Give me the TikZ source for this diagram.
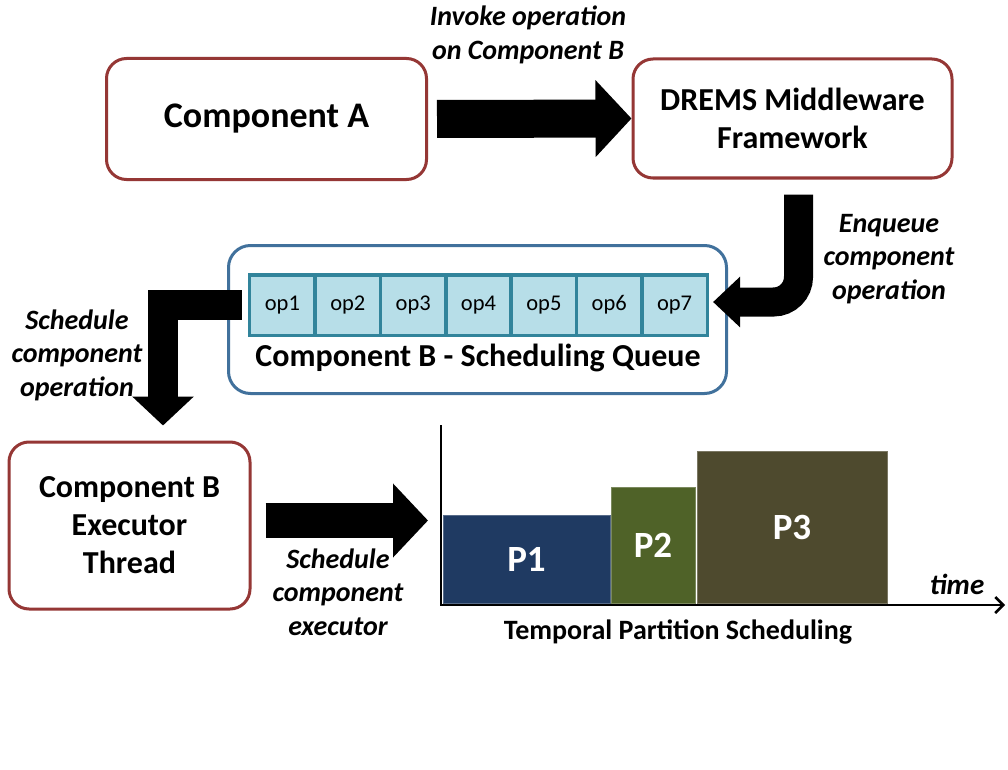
\documentclass[tikz,border=0pt]{standalone}
\usepackage{fontspec}
\setmainfont{Carlito}
\usetikzlibrary{arrows.meta,calc}
\definecolor{boxred}{RGB}{149,55,53}
\definecolor{qblue}{RGB}{65,113,156}
\definecolor{opfill}{RGB}{183,222,232}
\definecolor{opline}{RGB}{49,132,155}
\definecolor{pone}{RGB}{31,58,98}
\definecolor{ptwo}{RGB}{79,98,40}
\definecolor{pthree}{RGB}{78,74,46}
\tikzset{
  compbox/.style={draw=boxred,line width=3pt,rounded corners=20pt,fill=white,align=center,inner sep=0pt,font=\bfseries\fontsize{32}{38}\selectfont},
  qbox/.style={draw=qblue,line width=3pt,rounded corners=22pt,fill=white,inner sep=0pt},
  opcell/.style={draw=opline,line width=3.5pt,fill=opfill,minimum width=65.4pt,minimum height=60.5pt,inner sep=0pt,font=\fontsize{22.5}{24}\selectfont},
  actlabel/.style={align=center,font=\bfseries\itshape\fontsize{28}{33.5}\selectfont},
  partbar/.style={fill=#1,draw=#1!75!white,line width=1pt,inner sep=0pt,text=white,font=\bfseries\fontsize{37}{42}\selectfont},
}
\begin{document}
\begin{tikzpicture}[x=1pt,y=-1pt,line cap=butt]
\path[use as bounding box,fill=white] (0,0) rectangle (1008,770);
% boxes
\node[compbox,minimum width=320pt,minimum height=121pt,font=\bfseries\fontsize{36}{40}\selectfont] (compA) at (266.5,119) {Component A};
\node[compbox,minimum width=319pt,minimum height=119pt] (drems) at (792.5,118.5) {DREMS Middleware\\Framework};
\node[compbox,minimum width=241pt,minimum height=167pt] (cbx) at (129.5,525.5) {Component B\\Executor\\Thread};
% scheduling queue
\node[qbox,minimum width=498pt,minimum height=148pt] (queue) at (477.5,319.5) {};
\node[opcell] (ops1) at (282.4,305) {op1};
\node[opcell] (ops2) at (347.8,305) {op2};
\node[opcell] (ops3) at (413.2,305) {op3};
\node[opcell] (ops4) at (478.5,305) {op4};
\node[opcell] (ops5) at (543.9,305) {op5};
\node[opcell] (ops6) at (609.2,305) {op6};
\node[opcell] (ops7) at (674.6,305) {op7};
\node[font=\bfseries\fontsize{32}{34}\selectfont] (qlabel) at (478,358) {Component B - Scheduling Queue};
% temporal partitions
\coordinate (ytop) at (441,425);
\coordinate (orig) at (441,605);
\coordinate (xend) at (1005,605);
\node[partbar=pone,minimum width=167pt,minimum height=88pt] (P1) at (526.5,559) {P1};
\node[partbar=ptwo,minimum width=84pt,minimum height=116pt] (P2) at (653,545) {P2};
\node[partbar=pthree,minimum width=190pt,minimum height=152pt] (P3) at (792,527) {P3};
\draw[line width=2.5pt,-{Straight Barb[length=8pt,width=16pt]}] (ytop) -- (orig) -- (xend);
\node[font=\bfseries\itshape\fontsize{29}{32}\selectfont] (timelbl) at (957,584) {time};
\node[font=\bfseries\fontsize{28}{32}\selectfont] (tpslbl) at (678,632) {Temporal Partition Scheduling};
% block arrows
\draw[line width=38pt,-{Triangle[length=36pt,width=75pt]}] ([xshift=9pt]compA.east) -- (drems.west);
\draw[line width=29pt,rounded corners=25pt,-{Triangle[length=27pt,width=49pt]}] ([xshift=6pt,yshift=-15pt]drems.south) |- ($(ops7.east)+(4pt,3pt)$);
\draw[line width=30pt,line join=miter,-{Triangle[length=29pt,width=60pt]}] ($(ops1.west)+(-6pt,0pt)$) -| ($(cbx.north)+(33.5pt,15pt)$);
\draw[line width=35pt,-{Triangle[length=35pt,width=72pt]}] ($(cbx.east)+(14pt,5pt)$) -- ($(cbx.east -| orig)+(-13pt,5pt)$);
% arrow labels
\node[actlabel] (invlbl) at (528,35) {Invoke operation\\on Component B};
\node[actlabel] (enqlbl) at (889,259) {Enqueue\\component\\operation};
\node[actlabel] (schlbl) at (77,355) {Schedule\\component\\operation};
\node[actlabel] (exelbl) at (338,592) {Schedule\\component\\executor};
\end{tikzpicture}
\end{document}
